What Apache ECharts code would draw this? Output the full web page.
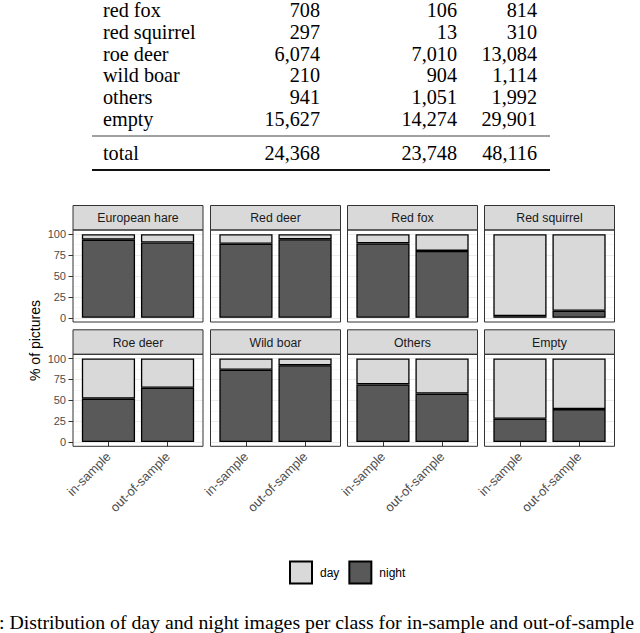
<!DOCTYPE html>
<html>
<head>
<meta charset="utf-8">
<script src="https://cdn.jsdelivr.net/npm/echarts@6/dist/echarts.min.js"></script>
<style>
  html, body { margin: 0; padding: 0; background: #ffffff; }
  #chart { width: 640px; height: 633px; }
</style>
</head>
<body>
<div id="chart"></div>
<script>
// ---------- data ----------
const tableLabels = ['red fox', 'red squirrel', 'roe deer', 'wild boar', 'others', 'empty'];
const tableInSample = [708, 297, 6074, 210, 941, 15627];
const tableOutSample = [106, 13, 7010, 904, 1051, 14274];
const tableTotal = [814, 310, 13084, 1114, 1992, 29901];
const totalLabel = 'total';
const totalRow = [24368, 23748, 48116];

const classes = ['European hare', 'Red deer', 'Red fox', 'Red squirrel', 'Roe deer', 'Wild boar', 'Others', 'Empty'];
const samples = ['in-sample', 'out-of-sample'];
// % of pictures per class, [in-sample, out-of-sample]
const nightPct = [[93.5, 90], [88.5, 94], [89, 80], [2, 8.5], [52, 65], [86.5, 92], [69, 58], [28, 39.5]];
const dayPct = [[6.5, 10], [11.5, 6], [11, 20], [98, 91.5], [48, 35], [13.5, 8], [31, 42], [72, 60.5]];
const yTicks = [0, 25, 50, 75, 100];
const yTitle = '% of pictures';
const legendNames = ['day', 'night'];
const captionText = ': Distribution of day and night images per class for in-sample and out-of-sample';

// ---------- layout ----------
const colLeft = [73, 210.5, 347.5, 484.5];
const panelW = 130;
const stripTop = [205.5, 329.8];
const stripH = 24.5;
const panelH = 92;
const yPad = 4.2;
const barInset = 5.9;
const sansFont = '"Liberation Sans", Arial, Helvetica, sans-serif';
const serifFont = '"Liberation Serif", "Times New Roman", serif';

const fmt = n => n.toLocaleString('en-US');

const grids = [], xAxes = [], yAxes = [], series = [], graphics = [];

classes.forEach((cls, i) => {
  const r = Math.floor(i / 4), c = i % 4;
  const left = colLeft[c];
  const sTop = stripTop[r];
  const pTop = sTop + stripH;
  const gTop = pTop + yPad;
  const gH = panelH - 2 * yPad;

  // frame grid (gridlines + y axis)
  grids.push({ left: left, top: gTop, width: panelW, height: gH });
  xAxes.push({ type: 'value', gridIndex: 2 * i, min: 0, max: 1, show: false });
  yAxes.push({
    type: 'value', gridIndex: 2 * i, min: yTicks[0], max: yTicks[yTicks.length - 1], interval: 25,
    axisLine: { show: false },
    axisTick: { show: c === 0, length: 4.5, lineStyle: { color: '#333333', width: 1 } },
    axisLabel: { show: c === 0, margin: 7, color: '#4D4D4D', fontSize: 11, fontFamily: sansFont },
    splitLine: { show: true, lineStyle: { color: '#EBEBEB', width: 1 } },
    minorTick: { show: false, splitNumber: 2 },
    minorSplitLine: { show: true, lineStyle: { color: '#F2F2F2', width: 0.6 } }
  });

  // bar grid
  grids.push({ left: left + barInset, top: gTop, width: panelW - 2 * barInset, height: gH });
  xAxes.push({
    type: 'category', gridIndex: 2 * i + 1, data: samples,
    offset: yPad,
    axisLine: { show: false },
    axisTick: { show: r === 1, alignWithLabel: true, length: 4.5, lineStyle: { color: '#333333', width: 1 } },
    axisLabel: { show: r === 1, rotate: 45, margin: 8, color: '#4D4D4D', fontSize: 12.8, fontFamily: sansFont, interval: 0 },
    splitLine: { show: false }
  });
  yAxes.push({ type: 'value', gridIndex: 2 * i + 1, min: 0, max: 100, show: false });

  series.push({
    type: 'bar', name: 'night', xAxisIndex: 2 * i + 1, yAxisIndex: 2 * i + 1,
    stack: 'p' + i, data: nightPct[i], barWidth: 53.2,
    itemStyle: { color: '#595959', borderColor: '#000000', borderWidth: 1.3 }
  });
  series.push({
    type: 'bar', name: 'day', xAxisIndex: 2 * i + 1, yAxisIndex: 2 * i + 1,
    stack: 'p' + i, data: dayPct[i], barWidth: 53.2,
    itemStyle: { color: '#D9D9D9', borderColor: '#000000', borderWidth: 1.3 }
  });

  // panel border
  graphics.push({
    type: 'rect', z: 100,
    shape: { x: left, y: pTop, width: panelW, height: panelH },
    style: { fill: 'none', stroke: '#333333', lineWidth: 1 }
  });
  // strip
  graphics.push({
    type: 'rect', z: 99,
    shape: { x: left, y: sTop, width: panelW, height: stripH },
    style: { fill: '#D9D9D9', stroke: '#333333', lineWidth: 1 }
  });
  graphics.push({
    type: 'text', z: 101, x: left + panelW / 2, y: sTop + stripH / 2 + 0.5,
    style: { text: cls, fill: '#1A1A1A', font: '12.3px ' + sansFont, textAlign: 'center', textVerticalAlign: 'middle' }
  });
});

// y-axis title
graphics.push({
  type: 'text', x: 35, y: 340.5, rotation: Math.PI / 2,
  style: { text: yTitle, fill: '#000000', font: '14px ' + sansFont, textAlign: 'center', textVerticalAlign: 'middle' }
});

// table
const tableFont = '20.2px ' + serifFont;
const rowY = [10, 31.8, 53.6, 75.4, 97.2, 119];
const labelX = 103, colRight = [320, 457, 537];
tableLabels.forEach((lab, k) => {
  graphics.push({ type: 'text', x: labelX, y: rowY[k], style: { text: lab, fill: '#000', font: tableFont, textAlign: 'left', textVerticalAlign: 'middle' } });
  [tableInSample[k], tableOutSample[k], tableTotal[k]].forEach((v, j) => {
    graphics.push({ type: 'text', x: colRight[j], y: rowY[k], style: { text: fmt(v), fill: '#000', font: tableFont, textAlign: 'right', textVerticalAlign: 'middle' } });
  });
});
graphics.push({ type: 'line', shape: { x1: 92, y1: 136, x2: 550, y2: 136 }, style: { stroke: '#444444', lineWidth: 1.2 } });
graphics.push({ type: 'text', x: labelX, y: 152.5, style: { text: totalLabel, fill: '#000', font: tableFont, textAlign: 'left', textVerticalAlign: 'middle' } });
totalRow.forEach((v, j) => {
  graphics.push({ type: 'text', x: colRight[j], y: 152.5, style: { text: fmt(v), fill: '#000', font: tableFont, textAlign: 'right', textVerticalAlign: 'middle' } });
});
graphics.push({ type: 'line', shape: { x1: 92, y1: 170, x2: 550, y2: 170 }, style: { stroke: '#111111', lineWidth: 2 } });

// caption
graphics.push({
  type: 'text', x: -1, y: 622,
  style: { text: captionText, fill: '#000', font: '19.8px ' + serifFont, textAlign: 'left', textVerticalAlign: 'middle' }
});

const chart = echarts.init(document.getElementById('chart'), null, { renderer: 'svg', width: 640, height: 633 });
chart.setOption({
  animation: false,
  backgroundColor: '#ffffff',
  grid: grids,
  xAxis: xAxes,
  yAxis: yAxes,
  series: series,
  legend: {
    data: legendNames,
    left: 289, top: 560.5, padding: 0,
    itemWidth: 22, itemHeight: 22, itemGap: 9,
    icon: 'rect',
    textStyle: { fontSize: 12, color: '#000', fontFamily: sansFont, padding: [0, 0, 0, 3] }
  },
  graphic: graphics
});
</script>
</body>
</html>
